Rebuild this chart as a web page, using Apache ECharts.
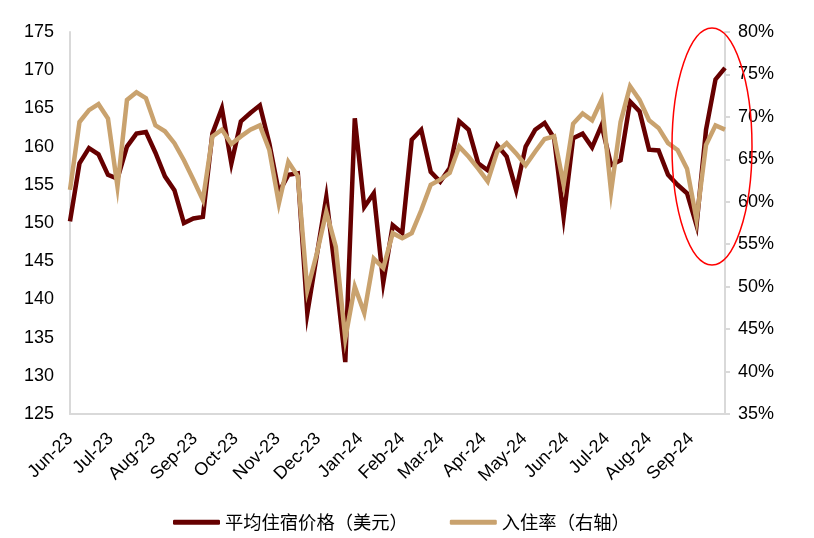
<!DOCTYPE html>
<html>
<head>
<meta charset="utf-8">
<script src="https://cdn.jsdelivr.net/npm/echarts@6/dist/echarts.min.js"></script>
<style>
html,body{margin:0;padding:0;background:#fff;}
#c{width:814px;height:538px;}
</style>
</head>
<body>
<div id="c"></div>
<script>
// Weekly observations, first week and count
const firstWeek = [2023, 5, 1]; // 2023-06-01 (UTC)
const seriesNames = ['平均住宿价格（美元）', '入住率（右轴）'];
const avgPrice = [
  150.2,157.8,159.8,159.0,156.3,155.8,160.0,161.7,161.9,159.2,
  156.1,154.3,150.0,150.6,150.8,161.7,165.0,157.8,163.3,164.4,
  165.4,160.4,154.0,156.3,156.5,138.2,145.8,153.4,143.0,131.8,
  163.7,152.1,153.9,142.2,149.7,148.7,160.9,162.2,156.7,155.4,
  157.2,163.3,162.2,157.8,156.9,160.2,158.7,154.3,160.0,162.2,
  163.1,161.1,150.8,161.1,161.7,159.9,162.8,157.6,158.2,165.9,
  164.6,159.6,159.5,156.3,155.0,153.9,149.7,162.2,168.8,170.3
];
const occupancy = [
  61.4,69.4,70.8,71.5,69.8,61.8,72.0,72.9,72.2,69.0,
  68.3,66.9,64.9,62.6,60.2,67.7,68.5,66.8,67.7,68.5,
  69.0,66.1,59.8,64.7,63.0,49.6,53.9,58.8,54.7,43.9,
  50.0,46.9,53.3,52.2,56.3,55.7,56.3,59.0,62.0,62.6,
  63.4,66.5,65.3,63.9,62.4,65.9,66.9,65.7,64.3,65.9,
  67.4,67.7,62.0,69.2,70.4,69.6,72.0,61.2,69.4,73.6,
  72.0,69.6,68.7,66.9,66.1,63.9,57.9,66.7,69.0,68.5
];
const monthNames = ['Jan','Feb','Mar','Apr','May','Jun','Jul','Aug','Sep','Oct','Nov','Dec'];
const leftTicks = {min:125, max:175, step:5};
const rightTicks = {min:35, max:80, step:5};

const DAY = 86400000;
const t0 = Date.UTC(firstWeek[0], firstWeek[1], firstWeek[2]);
const weeks = avgPrice.map((_, i) => t0 + i * 7 * DAY);

const chart = echarts.init(document.getElementById('c'), null, {renderer:'canvas'});
const axisFont = 'Liberation Sans, Arial, sans-serif';
const cjkFont = '"Noto Sans CJK SC", "Liberation Sans", sans-serif';

chart.setOption({
  useUTC: true,
  animation: false,
  backgroundColor: '#fff',
  grid: {left:70, right:89, top:32, bottom:124, containLabel:false},
  legend: {
    data: seriesNames,
    left: 168, top: 508,
    icon: 'roundRect',
    itemWidth: 47, itemHeight: 5,
    itemGap: 42,
    textStyle: {fontFamily: cjkFont, fontSize: 18.3, color:'#000'}
  },
  xAxis: {
    type: 'time',
    min: weeks[0],
    max: weeks[weeks.length - 1],
    splitNumber: 16,
    minInterval: 28 * DAY,
    maxInterval: 31 * DAY,
    axisLine: {show:true, lineStyle:{color:'#d9d9d9', width:2}},
    axisTick: {show:false},
    splitLine: {show:false},
    axisLabel: {
      rotate: 45,
      margin: 22,
      fontFamily: axisFont, fontSize: 18, color:'#000',
      hideOverlap: false,
      formatter: function (v) {
        const d = new Date(v);
        if (d.getUTCDate() !== 1) return '';
        return monthNames[d.getUTCMonth()] + '-' + String(d.getUTCFullYear()).slice(2);
      }
    }
  },
  yAxis: [
    {
      type: 'value', min: leftTicks.min, max: leftTicks.max, interval: leftTicks.step,
      axisLine: {show:true, lineStyle:{color:'#d9d9d9', width:2}},
      axisTick: {show:false},
      splitLine: {show:false},
      axisLabel: {margin: 16, fontFamily: axisFont, fontSize: 18, color:'#000'}
    },
    {
      type: 'value', min: rightTicks.min, max: rightTicks.max, interval: rightTicks.step,
      position: 'right',
      axisLine: {show:true, lineStyle:{color:'#d9d9d9', width:2}},
      axisTick: {show:true, inside:false, length:5, lineStyle:{color:'#d9d9d9', width:2}},
      splitLine: {show:false},
      axisLabel: {margin: 13, fontFamily: axisFont, fontSize: 18, color:'#000', formatter:'{value}%'}
    }
  ],
  series: [
    {
      name: seriesNames[0], type:'line', yAxisIndex:0,
      data: weeks.map((t, i) => [t, avgPrice[i]]),
      symbol:'none', lineStyle:{color:'#660000', width:4.5, join:'miter'},
      itemStyle:{color:'#660000'}, z: 2
    },
    {
      name: seriesNames[1], type:'line', yAxisIndex:1,
      data: weeks.map((t, i) => [t, occupancy[i]]),
      symbol:'none', lineStyle:{color:'#c9a26e', width:4.5, join:'miter'},
      itemStyle:{color:'#c9a26e'}, z: 3
    }
  ],
  graphic: [{
    type: 'ellipse',
    shape: {cx: 712, cy: 146.5, rx: 40, ry: 118.5},
    style: {fill: 'none', stroke: '#ff0000', lineWidth: 1.5},
    z: 10
  }]
});
</script>
</body>
</html>
